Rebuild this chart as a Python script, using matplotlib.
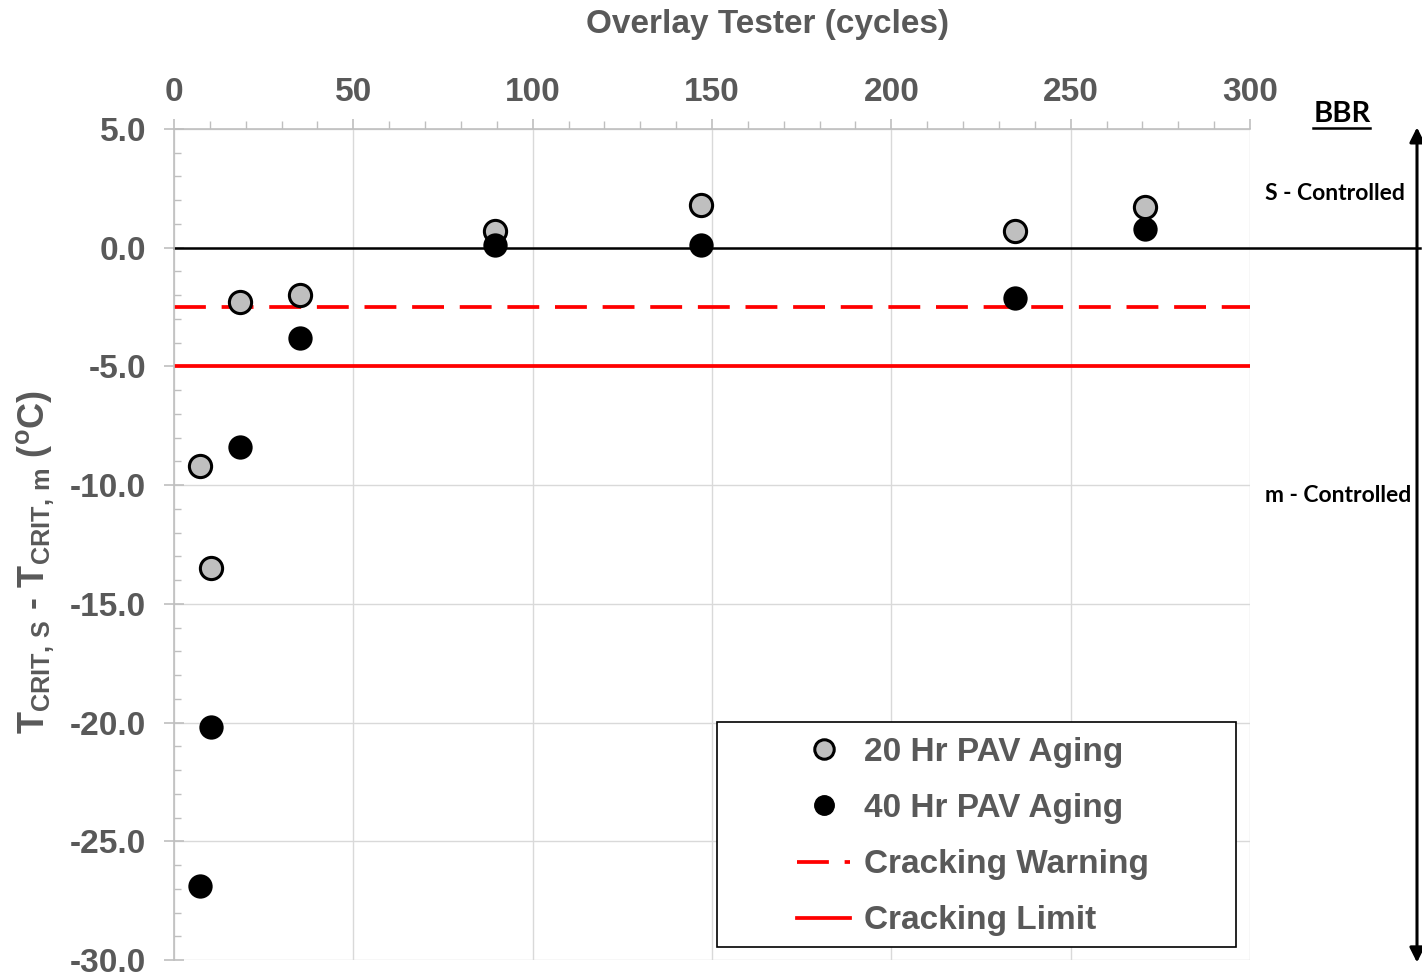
import matplotlib
matplotlib.use("Agg")
import matplotlib.pyplot as plt
from matplotlib.ticker import MultipleLocator, FormatStrFormatter
from matplotlib.patches import Rectangle
from matplotlib.lines import Line2D

# ---- data ----
cycles = [7.25, 10.3, 18.4, 35.1, 89.5, 146.9, 234.5, 270.7]
dT_20hr = [-9.2, -13.5, -2.3, -2.0, 0.7, 1.8, 0.7, 1.7]
dT_40hr = [-26.9, -20.2, -8.4, -3.8, 0.1, 0.1, -2.1, 0.8]
warning_level = -2.5
limit_level = -5.0
x_ticks = [0, 50, 100, 150, 200, 250, 300]
y_ticks = [-30, -25, -20, -15, -10, -5, 0, 5]
legend_labels = ["20 Hr PAV Aging", "40 Hr PAV Aging", "Cracking Warning", "Cracking Limit"]

GRAY = "#595959"
plt.rcParams['mathtext.fontset'] = 'custom'
plt.rcParams['mathtext.rm'] = 'Liberation Sans:bold'
plt.rcParams['mathtext.it'] = 'Liberation Sans:bold'
plt.rcParams['mathtext.bf'] = 'Liberation Sans:bold'
plt.rcParams['mathtext.default'] = 'rm'

fig = plt.figure(figsize=(14.22, 9.74), dpi=100)
L, R, T, B = 174, 1250, 129, 960
W, H = 1422, 974
ax = fig.add_axes([L / W, 1 - B / H, (R - L) / W, (B - T) / H])

ax.set_xlim(0, 300)
ax.set_ylim(-30, 5)
ax.xaxis.set_ticks_position('top')
ax.xaxis.set_label_position('top')
ax.set_xticks(x_ticks)
ax.set_yticks(y_ticks)
ax.xaxis.set_minor_locator(MultipleLocator(10))
ax.yaxis.set_minor_locator(MultipleLocator(1))
ax.yaxis.set_major_formatter(FormatStrFormatter('%.1f'))

ax.grid(True, which='major', color='#D9D9D9', linewidth=1.0, zorder=0)
ax.set_axisbelow(True)
for s in ['right', 'bottom']:
    ax.spines[s].set_visible(False)
for s in ['top', 'left']:
    ax.spines[s].set_color('#BFBFBF')
    ax.spines[s].set_linewidth(1.2)

ax.tick_params(axis='x', which='major', direction='out', length=7, width=1.2,
               color='#BFBFBF', pad=8, labelsize=24, labelcolor=GRAY)
ax.tick_params(axis='x', which='minor', direction='out', length=6, width=1.0, color='#BFBFBF')
ax.tick_params(axis='y', which='major', direction='inout', length=14, width=1.2,
               color='#BFBFBF', pad=13, labelsize=24, labelcolor=GRAY)
ax.tick_params(axis='y', which='minor', direction='in', length=5, width=1.0, color='#BFBFBF')
for lab in ax.get_xticklabels() + ax.get_yticklabels():
    lab.set_fontfamily('Liberation Sans')
    lab.set_fontweight('bold')

# reference lines
ax.axhline(0, xmin=0, xmax=(1420 - L) / (R - L), color='black', lw=1.8, clip_on=False, zorder=2)
ax.axhline(warning_level, color='red', lw=2.7, dashes=(8.5, 4.2), zorder=2)
ax.axhline(limit_level, color='red', lw=2.7, zorder=2)

# points
ax.scatter(cycles, dT_20hr, s=16**2, c='#BFBFBF', edgecolors='black', linewidths=2.2, zorder=3)
ax.scatter(cycles, dT_40hr, s=16**2, c='black', edgecolors='black', linewidths=1.5, zorder=3)

# axis titles
fig.text(768 / W, 1 - 24 / H, "Overlay Tester (cycles)", ha='center', va='center',
         fontsize=24, fontweight='bold', color=GRAY, family='Liberation Sans')
fig.text(35 / W, 1 - 562 / H, r'T$_{CRIT,\,S}$ - T$_{CRIT,\,m}$ ($^{o}$C)', rotation=90,
         ha='center', va='center', fontsize=26, fontweight='bold', color=GRAY,
         family='Liberation Sans')

# BBR annotation
ax.annotate('', xy=((1417 - L) / (R - L), -0.003), xytext=((1417 - L) / (R - L), 1.002),
            xycoords='axes fraction', textcoords='axes fraction',
            arrowprops=dict(arrowstyle='<|-|>', color='black', lw=2.2,
                            mutation_scale=22, shrinkA=0, shrinkB=0))
fig.text(1342 / W, 1 - 114 / H, "BBR", ha='center', va='center', fontsize=21,
         fontweight='bold', color='black', family='Lato')
fig.add_artist(Line2D([1313 / W, 1370 / W], [1 - 128 / H, 1 - 128 / H], color='black', lw=1.8))
fig.text(1335 / W, 1 - 193 / H, "S - Controlled", ha='center', va='center', fontsize=16.5,
         fontweight='bold', color='black', family='Lato')
fig.text(1338 / W, 1 - 496 / H, "m - Controlled", ha='center', va='center', fontsize=16.5,
         fontweight='bold', color='black', family='Lato')

# legend
handles = [
    Line2D([], [], ls='none', marker='o', ms=14, mfc='#BFBFBF', mec='black', mew=2.2),
    Line2D([], [], ls='none', marker='o', ms=14, mfc='black', mec='black'),
    Line2D([], [], color='red', lw=2.7, dashes=(8.5, 4.2)),
    Line2D([], [], color='red', lw=2.7),
]
ax.add_patch(Rectangle(((717 - L) / (R - L), (B - 947) / (B - T)), (1236 - 717) / (R - L),
                       (947 - 722) / (B - T), transform=ax.transAxes, facecolor='white',
                       edgecolor='black', lw=1.2, zorder=4))
leg = ax.legend(handles, legend_labels, loc='upper left',
                bbox_to_anchor=((797 - L) / (R - L), (B - 737) / (B - T)),
                frameon=False, borderpad=0, borderaxespad=0, handlelength=1.6,
                handletextpad=0.4, labelspacing=0.755,
                prop={'family': 'Liberation Sans', 'weight': 'bold', 'size': 24})
leg.set_zorder(5)
for t in leg.get_texts():
    t.set_color(GRAY)

fig.savefig("out.png", dpi=100)
